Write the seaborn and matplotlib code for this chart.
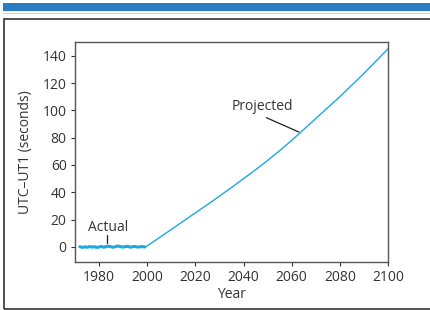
import numpy as np
import pandas as pd
import seaborn as sb
import matplotlib.pyplot as plt
from matplotlib.patches import Rectangle
from matplotlib.lines import Line2D

# values
actualYears = [1972, 1973, 1974, 1975, 1976, 1977, 1978, 1979, 1980, 1981, 1982, 1983, 1984,
               1985, 1986, 1987, 1988, 1989, 1990, 1991, 1992, 1993, 1994, 1995, 1996, 1997,
               1998, 1999]
actualValues = [0.2, -0.3, 0.1, -0.2, 0.3, -0.1, 0.2, -0.3, 0.0, 0.4, -0.2, 0.3, 0.6, 0.1,
                -0.2, 0.4, 0.7, 0.2, -0.1, 0.3, 0.5, -0.2, 0.2, 0.4, -0.1, 0.1, 0.3, 0.0]
projYears = [1999, 2000, 2005, 2010, 2015, 2020, 2025, 2030, 2035, 2040, 2045, 2050, 2055,
             2060, 2065, 2070, 2075, 2080, 2085, 2090, 2095, 2100]
projValues = [0.0, 0.8, 6.8, 12.8, 18.9, 25, 31, 37.2, 43.5, 50, 56.5, 63.3, 70.5,
              78, 86, 94, 102, 110, 118.5, 127, 136, 145]

lineColor = '#1BA8E4'
textColor = '#333333'

df_act = pd.DataFrame({'Year': actualYears, 'UTC-UT1': actualValues})
df_proj = pd.DataFrame({'Year': projYears, 'UTC-UT1': projValues})

sb.set_style('ticks')
plt.rcParams['font.family'] = ['Open Sans', 'DejaVu Sans']
plt.rcParams['text.color'] = textColor
plt.rcParams['axes.labelcolor'] = textColor
plt.rcParams['xtick.color'] = textColor
plt.rcParams['ytick.color'] = textColor

fig = plt.figure(figsize=(4.3, 3.1), dpi=100)
ax = fig.add_axes([0.1744, 0.1548, 0.9023 - 0.1744, 0.8645 - 0.1548])

sb.lineplot(data=df_act, x='Year', y='UTC-UT1', ax=ax, color=lineColor, linewidth=2.2)
sb.lineplot(data=df_proj, x='Year', y='UTC-UT1', ax=ax, color=lineColor, linewidth=1.0)

ax.set_xlim(1970, 2100)
ax.set_ylim(-11, 150)
ax.set_xticks(range(1980, 2101, 20))
ax.set_yticks(range(0, 141, 20))
ax.set_xlabel('Year', fontsize=10, labelpad=1)
ax.set_ylabel('UTC\u2013UT1 (seconds)', fontsize=10, labelpad=7)
ax.tick_params(labelsize=10, length=3, width=0.8, pad=3)
for s in ax.spines.values():
    s.set_color('#555555')
    s.set_linewidth(1.0)

# annotations
ax.text(1983.7, 14, 'Actual', fontsize=10, ha='center', va='center')
ax.plot([1983.2, 1983.2], [3, 8.8], color='#222222', linewidth=0.9)
ax.text(2048, 103, 'Projected', fontsize=10, ha='center', va='center')
ax.plot([2049.5, 2063], [94.6, 84.1], color='#222222', linewidth=0.9)

# page decorations: top bar and frame
fig.add_artist(Rectangle((3 / 430, 1 - 11 / 310), 1, 8 / 310, transform=fig.transFigure,
                         color='#2A7DC2', linewidth=0))
fig.add_artist(Line2D([3 / 430, 1], [1 - 12.5 / 310, 1 - 12.5 / 310], transform=fig.transFigure,
                      color='#C9DCEB', linewidth=0.8))
fig.add_artist(Rectangle((3.5 / 430, 1 - 308.5 / 310), 1, 289.5 / 310, transform=fig.transFigure,
                         fill=False, edgecolor='#333333', linewidth=1.2))

fig.savefig('out.png', dpi=100)
plt.close()
